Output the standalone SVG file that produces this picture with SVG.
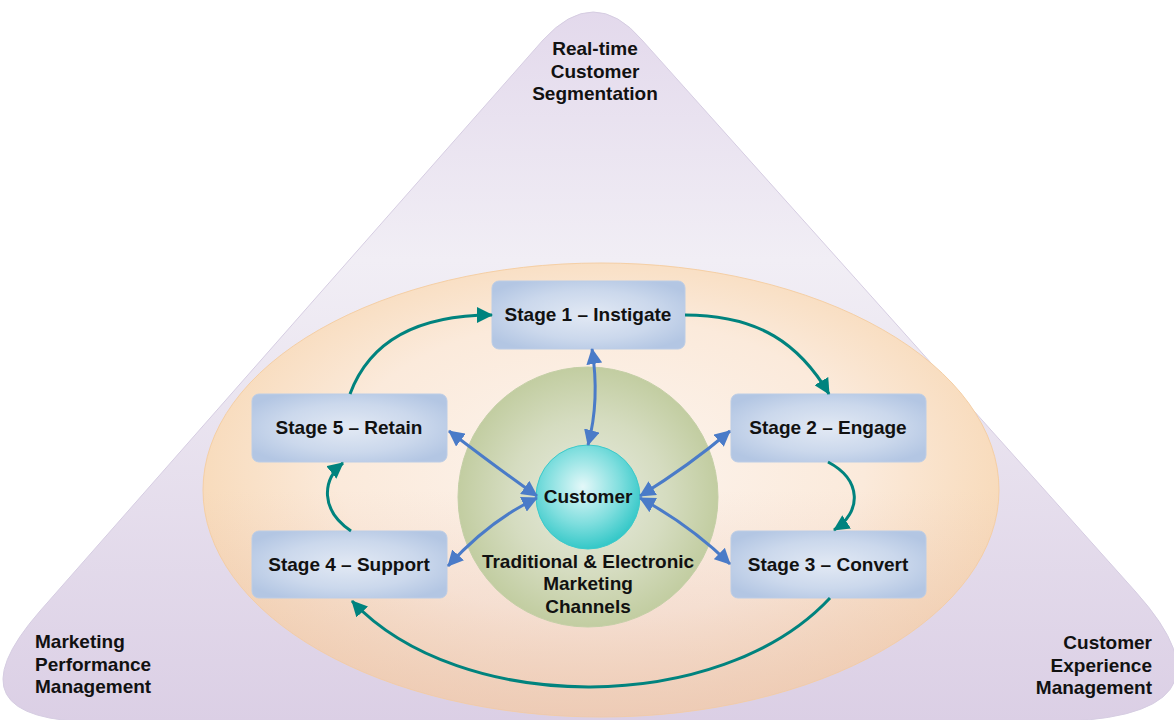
<svg xmlns="http://www.w3.org/2000/svg" width="1174" height="720" viewBox="0 0 1174 720">
  <defs>
    <linearGradient id="triGrad" x1="0" y1="0" x2="0" y2="1">
      <stop offset="0" stop-color="#e3d9ec"/>
      <stop offset="0.35" stop-color="#f1eef5"/>
      <stop offset="1" stop-color="#dbcfe5"/>
    </linearGradient>
    <radialGradient id="ellGrad" cx="0.5" cy="0.45" r="0.55">
      <stop offset="0" stop-color="#fcf4ee"/>
      <stop offset="0.6" stop-color="#fbeadb"/>
      <stop offset="1" stop-color="#f7d7b3"/>
    </radialGradient>
    <linearGradient id="ellShade" x1="0" y1="0" x2="0" y2="1">
      <stop offset="0.5" stop-color="#e6c2b8" stop-opacity="0"/>
      <stop offset="1" stop-color="#e6c2b8" stop-opacity="0.55"/>
    </linearGradient>
    <radialGradient id="greenGrad" cx="0.5" cy="0.5" r="0.5">
      <stop offset="0" stop-color="#e8ebe0"/>
      <stop offset="0.6" stop-color="#d5dcc0"/>
      <stop offset="1" stop-color="#c2cda1"/>
    </radialGradient>
    <radialGradient id="custGrad" cx="0.45" cy="0.4" r="0.6">
      <stop offset="0" stop-color="#e4f8f9"/>
      <stop offset="0.6" stop-color="#7fdede"/>
      <stop offset="1" stop-color="#35c8c8"/>
    </radialGradient>
    <radialGradient id="boxGrad" cx="0.5" cy="0.5" r="0.6">
      <stop offset="0" stop-color="#e2e9f4"/>
      <stop offset="0.6" stop-color="#cbd8ec"/>
      <stop offset="1" stop-color="#b3c6e3"/>
    </radialGradient>
    <marker id="teal" markerUnits="userSpaceOnUse" markerWidth="16" markerHeight="16" refX="15" refY="8" orient="auto">
      <path d="M0,0 L16,8 L0,16 z" fill="#00837e"/>
    </marker>
    <marker id="blue" markerUnits="userSpaceOnUse" markerWidth="16" markerHeight="16" refX="15" refY="8" orient="auto-start-reverse">
      <path d="M0,0 L16,8 L0,16 z" fill="#4a7bc8"/>
    </marker>
    <style>
      .lbl { font-family: "Liberation Sans", Arial, sans-serif; font-weight: bold; font-size: 19px; fill: #111; }
      .box { fill: url(#boxGrad); stroke: #bccde6; stroke-width: 1; }
      .tc { stroke: #00837e; stroke-width: 3; fill: none; marker-end: url(#teal); }
      .bc { stroke: #4a7bc8; stroke-width: 3; fill: none; marker-start: url(#blue); marker-end: url(#blue); }
    </style>
  </defs>

  <rect width="1174" height="720" fill="#ffffff"/>

  <g id="triangle">
    <path d="M543,40 Q594,-16 642,40 L1135,591 Q1253,722 1040,722 L100,722 Q-57,722 40,611 Z" fill="url(#triGrad)" stroke="#d6cde2" stroke-width="1"/>
    <text class="lbl" text-anchor="middle"><tspan x="595" y="55">Real-time</tspan><tspan x="595" y="78">Customer</tspan><tspan x="595" y="100">Segmentation</tspan></text>
    <text class="lbl"><tspan x="35" y="648">Marketing</tspan><tspan x="35" y="671">Performance</tspan><tspan x="35" y="693">Management</tspan></text>
    <text class="lbl" text-anchor="end"><tspan x="1152" y="649">Customer</tspan><tspan x="1152" y="672">Experience</tspan><tspan x="1152" y="694">Management</tspan></text>
  </g>

  <g id="ellipse">
    <ellipse cx="601" cy="490" rx="398" ry="227" fill="url(#ellGrad)" stroke="#f5cfa5" stroke-width="1"/>
    <ellipse cx="601" cy="490" rx="398" ry="227" fill="url(#ellShade)"/>
  </g>

  <g id="channels">
    <circle cx="588" cy="497" r="130" fill="url(#greenGrad)" stroke="#c4cfa6" stroke-width="1"/>
    <text class="lbl" text-anchor="middle"><tspan x="588" y="568">Traditional &amp; Electronic</tspan><tspan x="588" y="590">Marketing</tspan><tspan x="588" y="613">Channels</tspan></text>
  </g>

  <g id="customer">
    <circle cx="588" cy="497" r="52" fill="url(#custGrad)" stroke="#3ccaca" stroke-width="1"/>
    <text class="lbl" x="588" y="503" text-anchor="middle">Customer</text>
  </g>

  <g id="stage1">
    <rect class="box" x="492" y="281" width="193" height="68" rx="7"/>
    <text class="lbl" x="588" y="321" text-anchor="middle">Stage 1 – Instigate</text>
  </g>
  <g id="stage2">
    <rect class="box" x="731" y="394" width="195" height="68" rx="7"/>
    <text class="lbl" x="828" y="434" text-anchor="middle">Stage 2 – Engage</text>
  </g>
  <g id="stage3">
    <rect class="box" x="731" y="531" width="195" height="67" rx="7"/>
    <text class="lbl" x="828" y="571" text-anchor="middle">Stage 3 – Convert</text>
  </g>
  <g id="stage4">
    <rect class="box" x="252" y="531" width="195" height="67" rx="7"/>
    <text class="lbl" x="349" y="571" text-anchor="middle">Stage 4 – Support</text>
  </g>
  <g id="stage5">
    <rect class="box" x="252" y="394" width="195" height="68" rx="7"/>
    <text class="lbl" x="349" y="434" text-anchor="middle">Stage 5 – Retain</text>
  </g>

  <g id="connectors">
    <path class="tc" d="M350,394 C370,340 420,315 492,315"/>
    <path class="tc" d="M685,315 C760,315 800,345 829,394"/>
    <path class="tc" d="M828,462 C862,480 862,512 834,530"/>
    <path class="tc" d="M830,598 C720,716 460,716 352,601"/>
    <path class="tc" d="M351,531 C320,510 322,480 343,463"/>
    <path class="bc" d="M592,349 Q600,400 588,445"/>
    <path class="bc" d="M449,431 Q500,470 537,496"/>
    <path class="bc" d="M448,566 Q490,520 537,498"/>
    <path class="bc" d="M640,496 Q690,465 730,431"/>
    <path class="bc" d="M640,498 Q690,525 730,564"/>
  </g>
</svg>
